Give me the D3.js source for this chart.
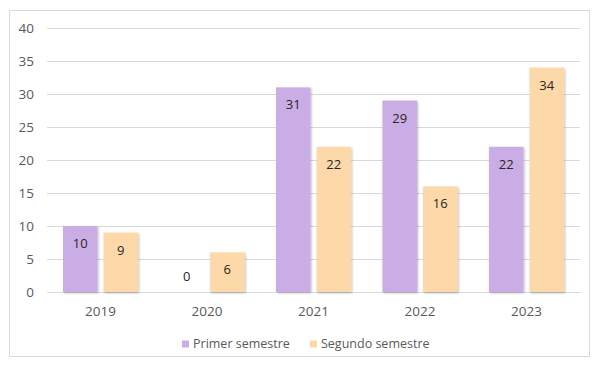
<!DOCTYPE html>
<html>
<head>
<meta charset="utf-8">
<script src="https://cdn.jsdelivr.net/npm/d3@7"></script>
<style>
  html, body { margin: 0; padding: 0; background: #fff; }
  svg { display: block; }
</style>
</head>
<body>
<svg id="chart" width="598" height="367"></svg>
<script>
// Data: students per semester and year
const years = ["2019", "2020", "2021", "2022", "2023"];
const seriesNames = ["Primer semestre", "Segundo semestre"];
const primerSemestre = [10, 0, 31, 29, 22];
const segundoSemestre = [9, 6, 22, 16, 34];
const yTicks = [0, 5, 10, 15, 20, 25, 30, 35, 40];

const colors = ["#CBADE6", "#FDD9AA"];
const fontFamily = "'Open Sans', 'Liberation Sans', sans-serif";

const svg = d3.select("#chart");

// outer frame
svg.append("rect")
  .attr("x", 9.5).attr("y", 10.5)
  .attr("width", 580).attr("height", 346)
  .attr("fill", "#fff").attr("stroke", "#d9d9d9").attr("stroke-width", 1);

const plot = { left: 47, right: 580, top: 28, bottom: 292 };

const x0 = d3.scaleBand().domain(years).range([plot.left, plot.right]).paddingInner(0.295).paddingOuter(0.15);
const x1 = d3.scaleBand().domain(seriesNames).range([0, x0.bandwidth()]).paddingInner(0.15);
const y = d3.scaleLinear().domain([0, 40]).range([plot.bottom, plot.top]);

// soft drop shadow for bars
const defs = svg.append("defs");
const f = defs.append("filter").attr("id", "shadow").attr("x", "-20%").attr("y", "-20%").attr("width", "140%").attr("height", "140%");
f.append("feDropShadow").attr("dx", 1).attr("dy", 1).attr("stdDeviation", 1.2).attr("flood-color", "#000").attr("flood-opacity", 0.28);

// gridlines + y axis labels
const yAxis = d3.axisLeft(y).tickValues(yTicks).tickSize(-(plot.right - plot.left)).tickPadding(13);
const gy = svg.append("g").attr("transform", `translate(${plot.left},0)`).call(yAxis);
gy.select(".domain").remove();
gy.selectAll(".tick line").attr("stroke", "#d9d9d9").attr("stroke-width", 1);
gy.selectAll(".tick text").attr("fill", "#595959").attr("font-size", 13.5).attr("font-family", fontFamily);

// x axis
const xAxis = d3.axisBottom(x0).tickSize(0).tickPadding(14);
const gx = svg.append("g").attr("transform", `translate(0,${plot.bottom})`).call(xAxis);
gx.select(".domain").attr("stroke", "#d9d9d9");
gx.selectAll(".tick text").attr("fill", "#595959").attr("font-size", 13.5).attr("font-family", fontFamily);

const rows = years.map((yr, i) => ({ year: yr, values: [primerSemestre[i], segundoSemestre[i]] }));

const groups = svg.append("g").selectAll("g").data(rows).join("g")
  .attr("transform", d => `translate(${x0(d.year)},0)`);

const cellG = groups.selectAll("g").data(d => d.values.map((v, k) => ({ v, k }))).join("g");

cellG.filter(d => d.v > 0).append("rect")
  .attr("x", d => x1(seriesNames[d.k]))
  .attr("y", d => y(d.v))
  .attr("width", x1.bandwidth())
  .attr("height", d => y(0) - y(d.v))
  .attr("fill", d => colors[d.k])
  .attr("filter", "url(#shadow)");

cellG.append("text")
  .attr("x", d => x1(seriesNames[d.k]) + x1.bandwidth() / 2)
  .attr("y", d => d.v >= 3 ? y(d.v) + 17.5 : y(d.v) - 16)
  .attr("dy", "0.35em")
  .attr("text-anchor", "middle")
  .attr("fill", "#262626")
  .attr("font-size", 13)
  .attr("font-weight", 500)
  .attr("font-family", fontFamily)
  .text(d => d.v);

// legend
const legend = svg.append("g");
const legendItems = [{ name: seriesNames[0], x: 182 }, { name: seriesNames[1], x: 310 }];
legendItems.forEach((it, k) => {
  legend.append("rect").attr("x", it.x).attr("y", 340.5).attr("width", 7).attr("height", 7).attr("fill", colors[k]);
  legend.append("text").attr("x", it.x + 11).attr("y", 344).attr("dy", "0.35em")
    .attr("fill", "#595959").attr("font-size", 12.5).attr("font-family", fontFamily).text(it.name);
});
</script>
</body>
</html>
